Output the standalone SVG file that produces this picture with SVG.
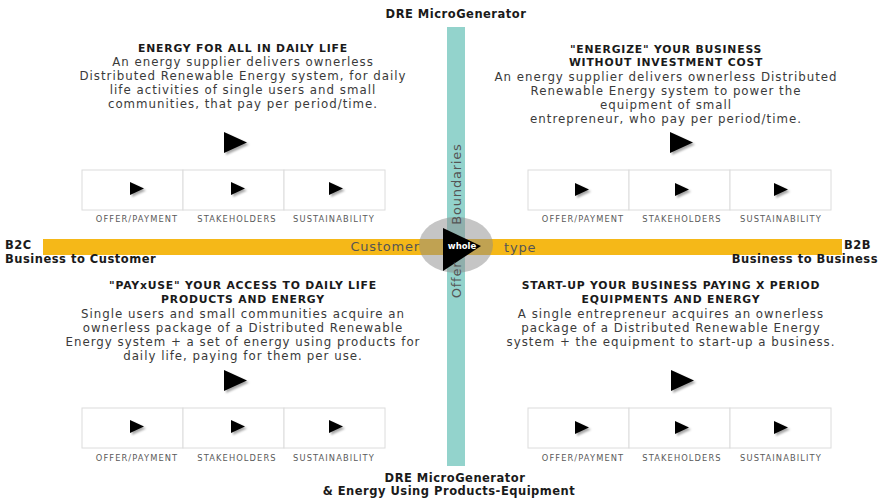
<svg xmlns="http://www.w3.org/2000/svg" width="882" height="499" viewBox="0 0 882 499">
<defs>
<style>
text{font-family:"DejaVu Sans","Liberation Sans",Arial,sans-serif}
.hd{font-size:11.5px;font-weight:bold;fill:#1a1a1a;letter-spacing:0.5px}
.ttl{font-size:10.8px;font-weight:bold;fill:#1a1a1a;text-anchor:middle;letter-spacing:0.8px}
.body{font-size:11.8px;fill:#3a3a3a;text-anchor:middle;letter-spacing:1px}
.lbl{font-size:8.3px;fill:#5a5a5a;text-anchor:middle;letter-spacing:1.1px}
.cell{fill:#fff;stroke:#dcdcdc;stroke-width:1}
.ax{font-size:13px;fill:#555;letter-spacing:0.8px}
.tri{fill:#000;filter:url(#sh)}
</style>
<filter id="sh" x="-30%" y="-30%" width="180%" height="180%">
<feDropShadow dx="2" dy="2" stdDeviation="1.2" flood-color="#000" flood-opacity="0.35"/>
</filter>
<path id="big" d="M0,0 L23,10.5 L0,21 Z"/>
<path id="small" d="M0,0 L14,6.5 L0,13 Z"/>
</defs>

<g id="axes">
<rect x="43" y="239" width="799" height="16" fill="#f5b818"/>
<rect x="447" y="27" width="18" height="439" fill="#93d3cc"/>
<ellipse cx="456" cy="245" rx="37" ry="28" fill="#8c8c8c" opacity="0.5"/>
<path d="M443,228 L481,246 L443,271 Z" fill="#000"/>
<text x="462" y="249" font-size="8.5" font-weight="bold" fill="#fff" text-anchor="middle">whole</text>
<text x="420" y="251" class="ax" text-anchor="end">Customer</text>
<text x="504" y="252" class="ax">type</text>
<text transform="translate(461,184) rotate(-90)" class="ax" text-anchor="middle">Boundaries</text>
<text transform="translate(461,280) rotate(-90)" class="ax" text-anchor="middle">Offer</text>
</g>

<g id="axis-labels">
<text x="456" y="18" class="hd" text-anchor="middle">DRE MicroGenerator</text>
<text x="455" y="482" class="hd" text-anchor="middle">DRE MicroGenerator</text>
<text x="449" y="495" class="hd" text-anchor="middle">&amp; Energy Using Products-Equipment</text>
<text x="5" y="249" class="hd" font-size="11">B2C</text>
<text x="5" y="263" class="hd" font-size="11">Business to Customer</text>
<text x="871" y="249" class="hd" font-size="11" text-anchor="end">B2B</text>
<text x="878" y="263" class="hd" font-size="11" text-anchor="end">Business to Business</text>
</g>

<g id="q-top-left">
<text x="243" y="52" class="ttl">ENERGY FOR ALL IN DAILY LIFE</text>
<text x="243" y="66" class="body">An energy supplier delivers ownerless</text>
<text x="243" y="80" class="body">Distributed Renewable Energy system, for daily</text>
<text x="243" y="94" class="body">life activities of single users and small</text>
<text x="243" y="108" class="body">communities, that pay per period/time.</text>
<use href="#big" x="224" y="132" class="tri"/>
<rect x="82" y="170" width="101" height="40" class="cell"/>
<rect x="183" y="170" width="101" height="40" class="cell"/>
<rect x="284" y="170" width="101" height="40" class="cell"/>
<use href="#small" x="130" y="182" class="tri"/>
<use href="#small" x="231" y="182" class="tri"/>
<use href="#small" x="329" y="182" class="tri"/>
<text x="137" y="222" class="lbl">OFFER/PAYMENT</text>
<text x="237" y="222" class="lbl">STAKEHOLDERS</text>
<text x="334" y="222" class="lbl">SUSTAINABILITY</text>
</g>

<g id="q-top-right">
<text x="666" y="53" class="ttl">"ENERGIZE" YOUR BUSINESS</text>
<text x="666" y="66" class="ttl">WITHOUT INVESTMENT COST</text>
<text x="666" y="81" class="body">An energy supplier delivers ownerless Distributed</text>
<text x="666" y="95" class="body">Renewable Energy system to power the</text>
<text x="666" y="109" class="body">equipment of small</text>
<text x="666" y="123" class="body">entrepreneur, who pay per period/time.</text>
<use href="#big" x="670" y="132" class="tri"/>
<rect x="528" y="170" width="101" height="40" class="cell"/>
<rect x="629" y="170" width="101" height="40" class="cell"/>
<rect x="730" y="170" width="101" height="40" class="cell"/>
<use href="#small" x="575" y="183" class="tri"/>
<use href="#small" x="675" y="183" class="tri"/>
<use href="#small" x="774" y="183" class="tri"/>
<text x="583" y="222" class="lbl">OFFER/PAYMENT</text>
<text x="682" y="222" class="lbl">STAKEHOLDERS</text>
<text x="781" y="222" class="lbl">SUSTAINABILITY</text>
</g>

<g id="q-bottom-left">
<text x="243" y="289" class="ttl">"PAYxUSE" YOUR ACCESS TO DAILY LIFE</text>
<text x="243" y="303" class="ttl">PRODUCTS AND ENERGY</text>
<text x="243" y="318" class="body">Single users and small communities acquire an</text>
<text x="243" y="332" class="body">ownerless package of a Distributed Renewable</text>
<text x="243" y="346" class="body">Energy system + a set of energy using products for</text>
<text x="243" y="360" class="body">daily life, paying for them per use.</text>
<use href="#big" x="224" y="370" class="tri"/>
<rect x="82" y="408" width="101" height="40" class="cell"/>
<rect x="183" y="408" width="101" height="40" class="cell"/>
<rect x="284" y="408" width="101" height="40" class="cell"/>
<use href="#small" x="130" y="420" class="tri"/>
<use href="#small" x="231" y="420" class="tri"/>
<use href="#small" x="329" y="420" class="tri"/>
<text x="137" y="461" class="lbl">OFFER/PAYMENT</text>
<text x="237" y="461" class="lbl">STAKEHOLDERS</text>
<text x="334" y="461" class="lbl">SUSTAINABILITY</text>
</g>

<g id="q-bottom-right">
<text x="671" y="289" class="ttl">START-UP YOUR BUSINESS PAYING X PERIOD</text>
<text x="671" y="303" class="ttl">EQUIPMENTS AND ENERGY</text>
<text x="671" y="318" class="body">A single entrepreneur acquires an ownerless</text>
<text x="671" y="332" class="body">package of a Distributed Renewable Energy</text>
<text x="671" y="346" class="body">system + the equipment to start-up a business.</text>
<use href="#big" x="671" y="370" class="tri"/>
<rect x="528" y="408" width="101" height="40" class="cell"/>
<rect x="629" y="408" width="101" height="40" class="cell"/>
<rect x="730" y="408" width="101" height="40" class="cell"/>
<use href="#small" x="575" y="421" class="tri"/>
<use href="#small" x="675" y="421" class="tri"/>
<use href="#small" x="774" y="421" class="tri"/>
<text x="583" y="461" class="lbl">OFFER/PAYMENT</text>
<text x="682" y="461" class="lbl">STAKEHOLDERS</text>
<text x="781" y="461" class="lbl">SUSTAINABILITY</text>
</g>
</svg>
